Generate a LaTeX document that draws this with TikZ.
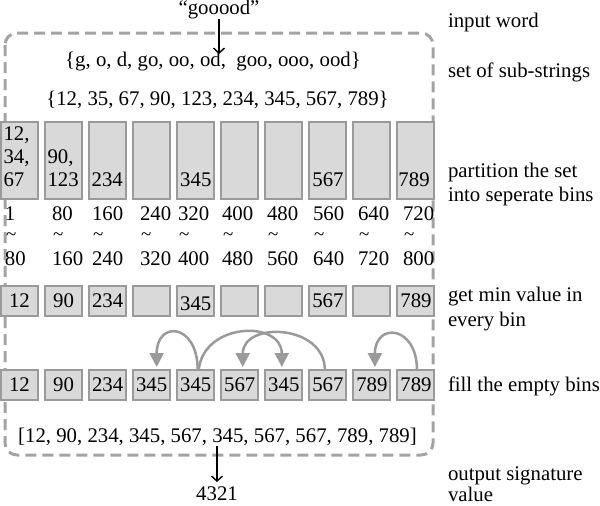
\documentclass[tikz,border=0pt]{standalone}
\usepackage{fontspec}
\setmainfont{Liberation Serif}
\usetikzlibrary{arrows.meta}
\definecolor{binfill}{HTML}{D9D9D9}
\definecolor{bindraw}{HTML}{9A9A9A}
\definecolor{dashc}{HTML}{A3A3A3}
\begin{document}
\begin{tikzpicture}[x=1pt,y=-1pt,
  every node/.style={font=\fontsize{20.8}{23}\selectfont, inner sep=0pt, outer sep=0pt},
  binbox/.style={draw=bindraw, fill=binfill, line width=2pt, minimum width=37pt, inner sep=0pt},
  tallbin/.style={binbox, minimum height=77pt},
  shortbin/.style={binbox, minimum height=30pt},
  lbl/.style={anchor=base west},
  rlbl/.style={anchor=west},
  blk/.style={draw=black, line width=1.4pt, -{Straight Barb[length=5pt,width=11pt,line width=1.4pt]}},
  garrow/.style={draw=bindraw, line width=2.5pt, -{Triangle[length=14pt,width=14pt]}},
  dashbox/.style={draw=dashc, line width=3pt, dash pattern=on 11pt off 6pt, rounded corners=12pt}
]
\useasboundingbox (0,0) rectangle (600,506);

% dashed frame
\draw[dashbox] (5,33) rectangle (433,455);

% top texts
\node (word) at (219,10) {“gooood”};
\node (subs) at (213,62) {\{g, o, d, go, oo, od,~ goo, ooo, ood\}};
\node (nums) at (217.5,100) {\{12, 35, 67, 90, 123, 234, 345, 567, 789\}};
\coordinate (inend) at (219,54);
\draw[blk] (word.south) -- (inend);

% row 1 : partition bins
\foreach \i in {1,...,10} {
  \node[tallbin] (p\i) at ({19.5+44.05*(\i-1)},160.5) {};
}
\node[lbl] at ([xshift=2.5pt,yshift=13pt]p1.south west) {67};
\node[lbl] at ([xshift=2.5pt,yshift=36pt]p1.south west) {34,};
\node[lbl] at ([xshift=2.5pt,yshift=59pt]p1.south west) {12,};
\node[lbl] at ([xshift=2.5pt,yshift=13pt]p2.south west) {123};
\node[lbl] at ([xshift=2.5pt,yshift=36pt]p2.south west) {90,};
\node[lbl] at ([xshift=2.5pt,yshift=13pt]p3.south west) {234};
\node[lbl] at ([xshift=3pt,yshift=13pt]p5.south west) {345};
\node[lbl] at ([xshift=3pt,yshift=13pt]p8.south west) {567};
\node[lbl] at ([xshift=1pt,yshift=13pt]p10.south west) {789};

% ranges
\foreach \x/\a/\b [count=\k] in {5/1/80, 52/80/160, 92/160/240, 140/240/320, 178/320/400,
    222/400/480, 267/480/560, 313/560/640, 358/640/720, 403/720/800} {
  \node[lbl] (ra\k) at (\x,220) {\a};
  \node[anchor=west, font=\fontsize{19}{19}\selectfont] (rt\k) at (\x+1,237) {\textasciitilde};
  \node[lbl] (rb\k) at (\x,265) {\b};
}

% row 2 : min values
\foreach \i/\t in {1/12, 2/90, 3/234, 4/, 5/, 6/, 7/, 8/567, 9/, 10/789} {
  \node[shortbin] (m\i) at ({19.5+44.05*(\i-1)},301) {\t};
}
\node at ([yshift=-3pt]m5.center) {345};

% row 3 : filled
\foreach \i/\t in {1/12, 2/90, 3/234, 4/345, 5/345, 6/567, 7/345, 8/567, 9/789, 10/789} {
  \node[shortbin] (f\i) at ({19.5+44.05*(\i-1)},385) {\t};
}

% fill arrows
\draw[garrow] ([xshift=2pt]f5.north) .. controls +(0,-47) and +(0,-47) .. ([xshift=5pt,yshift=3pt]f4.north);
\draw[garrow] ([xshift=3pt]f5.north) .. controls +(5,-48) and +(0,-47) .. ([xshift=-2pt,yshift=3pt]f7.north);
\draw[garrow] ([xshift=-3pt]f8.north) .. controls +(0,-46) and +(0,-46) .. ([xshift=3pt,yshift=3pt]f6.north);
\draw[garrow] ([xshift=1pt]f10.north) .. controls +(0,-45) and +(0,-45) .. ([xshift=3pt,yshift=3pt]f9.north);

% output
\node (list) at (217.5,437) {[12, 90, 234, 345, 567, 345, 567, 567, 789, 789]};
\node (res) at (217,494) {4321};
\coordinate (outstart) at (217,446);
\draw[blk, shorten >=5pt] (outstart) -- (res.north);

% right labels
\node[rlbl] (l1) at (448,22) {input word};
\node[rlbl] (l2) at (448,72) {set of sub-strings};
\node[rlbl] (l3) at (448,172) {partition the set};
\node[rlbl] (l4) at (448,196) {into seperate bins};
\node[rlbl] (l5) at (448,297) {get min value in};
\node[rlbl] (l6) at (448,322) {every bin};
\node[rlbl] (l7) at (448,386) {fill the empty bins};
\node[rlbl] (l8) at (448,476) {output signature};
\node[rlbl] (l9) at (448,494) {value};
\end{tikzpicture}
\end{document}
